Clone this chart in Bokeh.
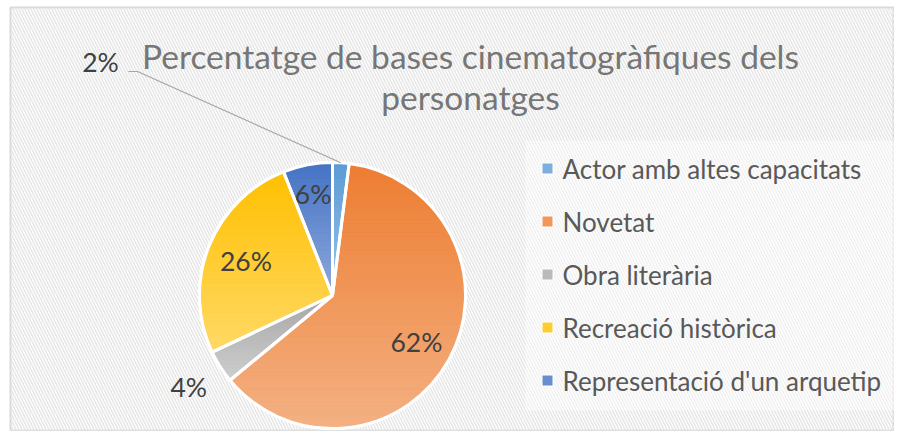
import math
from bokeh.plotting import figure
from bokeh.models import ColumnDataSource, BoxAnnotation, Range1d
from bokeh.core.properties import value
from bokeh.embed import file_html
from bokeh.resources import INLINE

# ---- data ----
categories = ["Actor amb altes capacitats", "Novetat", "Obra literària",
              "Recreació històrica", "Representació d'un arquetip"]
percent = [2, 62, 4, 26, 6]
labels = ["2%", "62%", "4%", "26%", "6%"]
title_lines = ["Percentatge de bases cinematogràfiques dels", "personatges"]

# ---- styles / layout ----
top_colors = ["#5b9bd5", "#ed7d31", "#a5a5a5", "#ffc000", "#4472c4"]
bottom_colors = ["#9dc3e6", "#f4b183", "#cfcfcf", "#ffd966", "#8faadc"]
mid_colors = ["#7cafde", "#f1975a", "#bababa", "#ffcc33", "#698ed0"]
FONT = "Lato"
W, H = 894, 431
LEFT, TOP = 10, 7
FW, FH = W - LEFT, H - TOP


def X(px):
    return px - LEFT


def Y(py):
    return H - py


cx, cy, R = X(332), Y(295), 133

p = figure(width=W, height=H, output_backend="svg", toolbar_location=None,
           x_range=Range1d(0, FW), y_range=Range1d(0, FH),
           min_border_left=LEFT, min_border_top=TOP, min_border_right=0,
           min_border_bottom=0)
p.axis.visible = False
p.grid.visible = False
p.background_fill_color = "white"
p.border_fill_color = "white"
p.outline_line_color = "#d9d9d9"
p.outline_line_width = 2

# striped background
p.add_layout(BoxAnnotation(fill_alpha=0, line_alpha=0, hatch_pattern="\\",
                           hatch_color="#e6e6e6", hatch_scale=6, hatch_weight=1.5,
                           level="underlay"))
# lighter legend panel
p.add_layout(BoxAnnotation(left=X(525), right=X(898), top=Y(140), bottom=Y(410),
                           fill_color="white", fill_alpha=0.45, line_alpha=0,
                           level="underlay"))

# wedge angles (clockwise from 12 o'clock)
total = sum(percent)
starts, ends, mids, a0s, a1s = [], [], [], [], []
cum = 0.0
for v in percent:
    a0 = cum / total * 2 * math.pi
    cum += v
    a1 = cum / total * 2 * math.pi
    a0s.append(a0); a1s.append(a1)
    starts.append(math.pi / 2 - a1)
    ends.append(math.pi / 2 - a0)
    mids.append((a0 + a1) / 2)

src = ColumnDataSource(dict(start=starts, end=ends, color=mid_colors, cat=categories))
p.wedge(x=cx, y=cy, radius=R, start_angle="start", end_angle="end",
        direction="anticlock", fill_color="color", line_color="white",
        line_width=3, source=src)


# vertical gradient inside each slice: horizontal bands clipped to the slice
def clip(poly, yv, keep_above):
    out = []
    n = len(poly)
    for i in range(n):
        (x1, y1), (x2, y2) = poly[i], poly[(i + 1) % n]
        in1 = (y1 >= yv) if keep_above else (y1 <= yv)
        in2 = (y2 >= yv) if keep_above else (y2 <= yv)
        if in1:
            out.append((x1, y1))
        if in1 != in2:
            t = (yv - y1) / (y2 - y1)
            out.append((x1 + t * (x2 - x1), yv))
    return out


def hex2rgb(h):
    return tuple(int(h[i:i + 2], 16) for i in (1, 3, 5))


def mix(c1, c2, t):
    a, b = hex2rgb(c1), hex2rgb(c2)
    return "#%02x%02x%02x" % tuple(round(a[k] + (b[k] - a[k]) * t) for k in range(3))


bx, by, bc = [], [], []
NB = 60
for i in range(len(percent)):
    steps = max(2, int(math.degrees(a1s[i] - a0s[i])))
    poly = [(cx, cy)] + [
        (cx + R * math.sin(a0s[i] + (a1s[i] - a0s[i]) * k / steps),
         cy + R * math.cos(a0s[i] + (a1s[i] - a0s[i]) * k / steps))
        for k in range(steps + 1)]
    ytop = max(pt[1] for pt in poly)
    ybot = min(pt[1] for pt in poly)
    nb = max(4, int(NB * (ytop - ybot) / (2 * R)) + 2)
    for b in range(nb):
        yhi = ytop - (ytop - ybot) * b / nb
        ylo = ytop - (ytop - ybot) * (b + 1) / nb
        piece = clip(clip(poly, ylo, True), yhi, False)
        if len(piece) < 3:
            continue
        bx.append([pt[0] for pt in piece])
        by.append([pt[1] for pt in piece])
        bc.append(mix(top_colors[i], bottom_colors[i], (b + 0.5) / nb))

p.patches(xs=bx, ys=by, fill_color=bc, line_color=bc, line_width=0.6)

# white separators / outline on top
p.wedge(x=cx, y=cy, radius=R, start_angle="start", end_angle="end",
        direction="anticlock", fill_alpha=0, line_color="white",
        line_width=3, source=src)

# data labels
frac = [None, 0.72, 1.28, 0.70, 0.78]
lx, ly = [], []
for i, m in enumerate(mids):
    if frac[i] is None:
        lx.append(X(100)); ly.append(Y(61))
    else:
        lx.append(cx + frac[i] * R * math.sin(m))
        ly.append(cy + frac[i] * R * math.cos(m))
p.text(x=lx, y=ly, text=labels, text_align="center", text_baseline="middle",
       text_font=value(FONT), text_font_size="26.5px", text_color="#404040")

# leader line for the small slice
ex = cx + R * math.sin(mids[0])
ey = cy + R * math.cos(mids[0])
p.line(x=[X(128), X(137), ex], y=[Y(71), Y(71), ey], line_color="#a6a6a6",
       line_width=1.2)

# title
p.text(x=[X(470), X(470)], y=[Y(55), Y(96)], text=title_lines,
       text_align="center", text_baseline="alphabetic",
       text_font=value(FONT), text_font_size="33.5px", text_color="#767676")

# legend
ly0, dy = 168, 53
leg_y = [Y(ly0 + i * dy) for i in range(len(categories))]
p.scatter(x=[X(547)] * len(categories), y=leg_y, marker="square", size=11,
          fill_color=mid_colors, line_color="white", line_width=1)
p.text(x=[X(562)] * len(categories), y=leg_y, text=categories,
       text_align="left", text_baseline="middle", text_font=value(FONT),
       text_font_size="26px", text_color="#595959")

open("out.html", "w").write(file_html(p, INLINE))
